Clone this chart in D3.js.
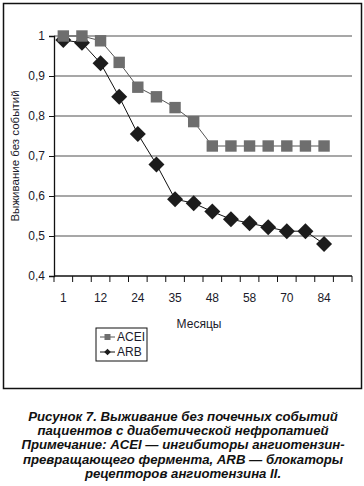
<!DOCTYPE html>
<html>
<head>
<meta charset="utf-8">
<script src="https://cdn.jsdelivr.net/npm/d3@7"></script>
<style>
  body { margin: 0; background: #fff; }
  svg text { font-family: "Liberation Sans", Arial, sans-serif; }
</style>
</head>
<body>
<svg id="chart" width="364" height="486"></svg>
<script>
// categories (every second one is labelled, last one is empty)
const months = ["1", "6", "12", "18", "24", "30", "35", "42", "48", "54", "58", "64", "70", "77", "84", ""];
const acei = [1.0, 1.0, 0.988, 0.934, 0.872, 0.848, 0.821, 0.786, 0.725, 0.725, 0.725, 0.725, 0.725, 0.725, 0.725];
const arb = [0.99, 0.983, 0.932, 0.848, 0.755, 0.679, 0.592, 0.582, 0.561, 0.542, 0.532, 0.522, 0.512, 0.512, 0.48];
const yTicks = [0.4, 0.5, 0.6, 0.7, 0.8, 0.9, 1];
const captionLines = [
  "Рисунок 7. Выживание без почечных событий",
  "пациентов с диабетической нефропатией",
  "Примечание: ACEI — ингибиторы ангиотензин-",
  "превращающего фермента, ARB — блокаторы",
  "рецепторов ангиотензина II."
];

const svg = d3.select("#chart");
const margin = { top: 36, left: 54 };
const plotW = 352 - 54;
const plotH = 276 - 36;

// outer frame
svg.append("rect")
  .attr("x", 3.5).attr("y", 3.5)
  .attr("width", 358).attr("height", 385)
  .attr("fill", "none").attr("stroke", "#111").attr("stroke-width", 1.5);

const g = svg.append("g").attr("transform", `translate(${margin.left},${margin.top})`);

const x = d3.scaleBand().domain(d3.range(months.length)).range([0, plotW]);
const y = d3.scaleLinear().domain([0.4, 1]).range([plotH, 0]);

// gridlines
g.append("g")
  .selectAll("line")
  .data(yTicks.slice(1))
  .join("line")
  .attr("x1", 0).attr("x2", plotW)
  .attr("y1", d => y(d)).attr("y2", d => y(d))
  .attr("stroke", "#8a8a8a").attr("stroke-width", 1.6);

// y axis
const yAxis = g.append("g")
  .call(d3.axisLeft(y).tickValues(yTicks).tickSize(5).tickPadding(4)
    .tickFormat(d => d3.format(".1f")(d).replace(".0", "").replace(".", ",")));
yAxis.select(".domain").attr("stroke", "#111").attr("stroke-width", 1.3);
yAxis.selectAll(".tick line").attr("stroke", "#111");
yAxis.selectAll("text").attr("font-size", 12).attr("fill", "#1a1a2a");

// x axis: ticks at category boundaries, labels on every second category
const xg = g.append("g").attr("transform", `translate(0,${plotH})`);
xg.append("line")
  .attr("x1", 0).attr("x2", plotW)
  .attr("stroke", "#111").attr("stroke-width", 1.3);
xg.selectAll("line.tk")
  .data(d3.range(months.length + 1))
  .join("line")
  .attr("class", "tk")
  .attr("x1", i => i * x.step()).attr("x2", i => i * x.step())
  .attr("y1", 0).attr("y2", 6)
  .attr("stroke", "#111");
xg.selectAll("text")
  .data(months.map((m, i) => ({ m, i })).filter(d => d.i % 2 === 0))
  .join("text")
  .attr("x", d => x(d.i) + x.bandwidth() / 2)
  .attr("y", 26)
  .attr("text-anchor", "middle")
  .attr("font-size", 12)
  .attr("fill", "#1a1a2a")
  .text(d => d.m);

// axis titles
svg.append("text")
  .attr("transform", `translate(19,${margin.top + plotH / 2}) rotate(-90)`)
  .attr("text-anchor", "middle")
  .attr("font-size", 11.5)
  .attr("fill", "#1a1a2a")
  .text("Выживание без событий");

svg.append("text")
  .attr("x", 199).attr("y", 328)
  .attr("text-anchor", "middle")
  .attr("font-size", 12)
  .attr("fill", "#1a1a2a")
  .text("Месяцы");

const cx = (d, i) => x(i) + x.bandwidth() / 2;
const line = d3.line().x(cx).y(d => y(d));

// ARB (black diamonds), drawn under ACEI
g.append("path").datum(arb)
  .attr("fill", "none").attr("stroke", "#111").attr("stroke-width", 1)
  .attr("d", line);
g.selectAll(".arb")
  .data(arb)
  .join("path")
  .attr("class", "arb")
  .attr("transform", (d, i) => `translate(${cx(d, i)},${y(d)}) rotate(45)`)
  .attr("d", d3.symbol().type(d3.symbolSquare).size(128))
  .attr("fill", "#1c1c1c");

// ACEI (gray squares)
g.append("path").datum(acei)
  .attr("fill", "none").attr("stroke", "#555").attr("stroke-width", 1)
  .attr("d", line);
g.selectAll(".acei")
  .data(acei)
  .join("rect")
  .attr("class", "acei")
  .attr("x", (d, i) => cx(d, i) - 5.7)
  .attr("y", d => y(d) - 5.7)
  .attr("width", 11.4).attr("height", 11.4)
  .attr("fill", "#6e6e6e");

// legend
const leg = svg.append("g").attr("transform", "translate(96,328)");
leg.append("rect")
  .attr("width", 51).attr("height", 33)
  .attr("fill", "#fff").attr("stroke", "#111").attr("stroke-width", 1);
const legItems = [
  { name: "ACEI", color: "#6e6e6e", line: "#555", shape: "square" },
  { name: "ARB", color: "#1c1c1c", line: "#111", shape: "diamond" }
];
legItems.forEach((it, i) => {
  const ly = 9 + i * 15;
  leg.append("line").attr("x1", 4).attr("x2", 19).attr("y1", ly).attr("y2", ly)
    .attr("stroke", it.line).attr("stroke-width", 1);
  if (it.shape === "square") {
    leg.append("rect").attr("x", 8.5).attr("y", ly - 3).attr("width", 6).attr("height", 6).attr("fill", it.color);
  } else {
    leg.append("path").attr("transform", `translate(11.5,${ly}) rotate(45)`)
      .attr("d", d3.symbol().type(d3.symbolSquare).size(22)).attr("fill", it.color);
  }
  leg.append("text").attr("x", 21).attr("y", ly + 4)
    .attr("font-size", 12).attr("fill", "#1a1a2a").text(it.name);
});

// caption
svg.append("g")
  .selectAll("text")
  .data(captionLines)
  .join("text")
  .attr("x", 183)
  .attr("y", (d, i) => 421 + i * 14.2)
  .attr("text-anchor", "middle")
  .attr("font-size", 13.2)
  .attr("font-weight", "bold")
  .attr("font-style", "italic")
  .attr("fill", "#111")
  .text(d => d);
</script>
</body>
</html>
